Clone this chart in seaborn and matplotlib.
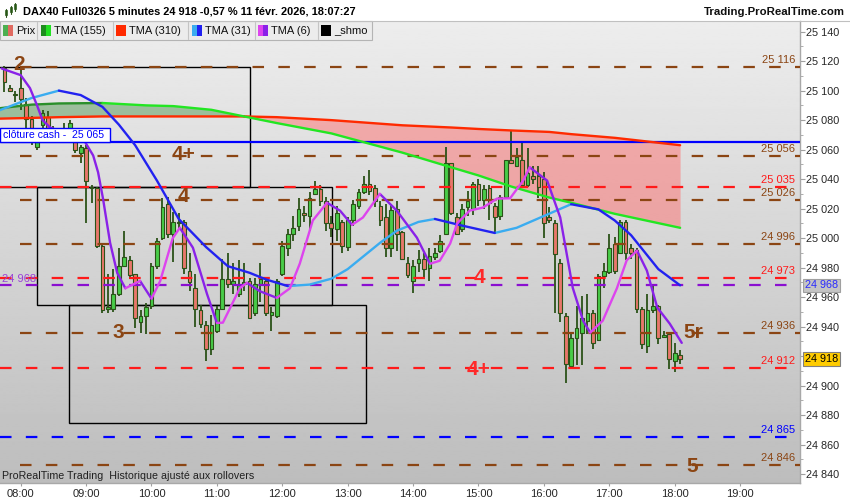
import numpy as np
import pandas as pd
import matplotlib
matplotlib.use("Agg")
import matplotlib.pyplot as plt
import matplotlib.transforms as mtransforms
from matplotlib.patches import Rectangle
from matplotlib.lines import Line2D
import seaborn as sns

sns.set_style("white")
plt.rcParams['font.family'] = ['Liberation Sans', 'DejaVu Sans']
plt.rcParams['lines.scale_dashes'] = False

# %%
# DAX40 5 min candles, first one at 07:45 (index 0), last at 18:05
opens = [25115, 25102, 25098, 25102, 25091, 25081, 25062, 25077, 25082, 25074,
         25070, 25072, 25075, 25065, 25058, 25061, 25034, 25034, 24995, 24952,
         24952, 24962, 24981, 24985, 24976, 24943, 24947, 24954, 24981, 25000,
         25023, 25003, 25010, 25011, 24978, 24966, 24951, 24941, 24925, 24937,
         24952, 24972, 24969, 24962, 24969, 24971, 24949, 24969, 24971, 24948,
         24947, 24976, 24993, 25003, 25008, 25017, 25015, 25030, 25033, 25025,
         25010, 25006, 25011, 24994, 25012, 25022, 25031, 25037, 25034, 25022,
         25014, 24993, 25020, 25004, 24983, 24971, 24983, 24986, 24980, 24987,
         24991, 25003, 25051, 25014, 25006, 25021, 25020, 25037, 25026, 25034,
         25022, 25015, 25028, 25053, 25049, 25053, 25036, 25042, 25042, 25040,
         25014, 25010, 24983, 24947, 24913, 24932, 24936, 24944, 24949, 24931,
         24974, 24977, 24996, 24990, 25011, 24993, 24992, 24952, 24927, 24951,
         24954, 24933, 24935, 24917, 24921]
highs = [25117, 25104, 25100, 25114, 25095, 25083, 25070, 25087, 25086, 25076,
         25075, 25078, 25080, 25068, 25063, 25063, 25036, 25035, 24997, 24976,
         24979, 24993, 25005, 24988, 24976, 24951, 24956, 24983, 25000, 25027,
         25028, 25018, 25017, 25012, 24990, 24976, 24955, 24944, 24948, 24954,
         24986, 24990, 24983, 24985, 24983, 24973, 24973, 24983, 24973, 24953,
         24972, 24998, 25006, 25015, 25027, 25022, 25031, 25039, 25036, 25028,
         25015, 25022, 25012, 25014, 25026, 25033, 25042, 25046, 25036, 25025,
         25023, 25023, 25025, 25005, 24987, 24985, 24992, 24990, 24993, 24993,
         25002, 25062, 25051, 25017, 25023, 25032, 25038, 25040, 25036, 25036,
         25024, 25029, 25053, 25073, 25061, 25065, 25061, 25049, 25049, 25045,
         25021, 25012, 24986, 24949, 24935, 24954, 24961, 24962, 24951, 24976,
         24983, 25003, 25001, 25012, 25012, 24996, 24993, 24953, 24962, 24968,
         24955, 24937, 24936, 24929, 24924]
lows = [25099, 25099, 25092, 25087, 25075, 25063, 25060, 25075, 25071, 25067,
        25066, 25068, 25066, 25058, 25051, 25010, 25024, 24993, 24949, 24949,
        24950, 24961, 24981, 24972, 24939, 24936, 24935, 24952, 24979, 24999,
        25000, 24984, 25006, 24976, 24964, 24940, 24939, 24917, 24921, 24936,
        24951, 24966, 24962, 24960, 24964, 24945, 24947, 24957, 24947, 24937,
        24946, 24974, 24988, 24998, 25005, 25011, 25005, 25029, 25022, 25005,
        25001, 24998, 24990, 24991, 25008, 25020, 25030, 25029, 25021, 25008,
        24987, 24987, 24991, 24985, 24973, 24963, 24977, 24972, 24971, 24985,
        24990, 25002, 25016, 25002, 25004, 25015, 25016, 25022, 25020, 25012,
        25003, 25012, 25027, 25050, 25048, 25034, 25035, 25037, 25027, 25000,
        25010, 24949, 24943, 24902, 24911, 24914, 24914, 24935, 24925, 24930,
        24966, 24976, 24976, 24989, 24985, 24986, 24949, 24925, 24922, 24949,
        24928, 24932, 24911, 24909, 24915]
closes = [25106, 25100, 25097, 25094, 25081, 25070, 25065, 25085, 25075, 25070,
          25072, 25074, 25078, 25060, 25062, 25039, 25035, 24995, 24951, 24953,
          24962, 24981, 24987, 24975, 24946, 24947, 24953, 24981, 24998, 25021,
          25003, 25011, 25011, 24980, 24970, 24952, 24942, 24925, 24941, 24952,
          24972, 24969, 24971, 24968, 24970, 24946, 24969, 24972, 24949, 24950,
          24971, 24995, 25003, 25007, 25020, 25016, 25027, 25033, 25025, 25010,
          25007, 25017, 24995, 25012, 25023, 25031, 25037, 25032, 25025, 25012,
          24993, 25019, 25003, 24986, 24975, 24981, 24986, 24979, 24988, 24990,
          24998, 25051, 25017, 25003, 25020, 25025, 25037, 25026, 25033, 25024,
          25014, 25028, 25053, 25051, 25055, 25036, 25044, 25040, 25035, 25010,
          25012, 24989, 24949, 24915, 24932, 24939, 24946, 24949, 24929, 24974,
          24978, 24993, 24978, 25011, 24990, 24990, 24952, 24928, 24951, 24954,
          24932, 24934, 24918, 24922, 24918]

# slow averages, read at the same candle indices
long_idx = [-1, 5, 10, 18, 26, 31, 38, 44, 50, 60, 73, 82, 87, 93, 100, 104, 112, 124]
tma155 = [25088, 25090.5, 25091.3, 25091.6, 25090, 25089.5, 25087, 25082.5, 25078,
          25071, 25058, 25048, 25042.5, 25035, 25027.5, 25024, 25016.5, 25007]
tma310 = [25081, 25081.5, 25082, 25082.5, 25082.5, 25082.5, 25082.5, 25082.5, 25082,
          25080, 25076.5, 25075, 25074, 25073, 25072, 25070.5, 25068, 25063]

tma31_idx = [-1, 5, 10, 14, 18, 21, 24, 28, 32, 37, 41, 45, 48, 52, 56, 60, 63, 66, 69,
             72, 76, 79, 84, 90, 94, 99, 104, 109, 112, 115, 120, 124]
tma31 = [25086.5, 25095, 25100, 25097, 25089, 25077, 25063, 25039, 25013, 24994,
         24981, 24976.5, 24972, 24967.5, 24968.5, 24972.5, 24979, 24988, 24997,
         25005, 25011, 25013, 25008.5, 25003.5, 25007, 25015, 25023, 25019.5, 25012,
         25002, 24979, 24968]

tma6_idx = [-0.5, 3, 4.7, 6, 7, 8.4, 12, 14.4, 16.3, 17.2, 18.1, 19.4, 20.7, 22.2,
            24.9, 27, 28.6, 30.9, 32.2, 34.6, 37.2, 39, 40.1, 43.2, 44.5, 46.9, 50,
            52.4, 54.2, 56.6, 59.2, 61.6, 63.8, 65.8, 68.9, 72, 75.7, 78.1, 79.9, 81.8,
            83.1, 85.4, 87.8, 90.4, 92.8, 95.2, 96.4, 99.6, 102, 104.3, 106.2, 107.5,
            109.8, 112.4, 114.2, 116.1, 117.9, 119.8, 122.1, 124.3]
tma6 = [25115, 25110.5, 25101.7, 25090, 25080, 25075, 25070, 25067.7, 25056, 25044.6,
        25026.8, 24996.9, 24976.5, 24966, 24971, 24959, 24971, 25000, 25007, 24993.5,
        24962, 24942.5, 24942.7, 24966, 24969.7, 24964, 24959.5, 24966, 24982.6, 25012,
        25024, 25018.6, 25009, 25014, 25030, 25018.7, 25000.3, 24982.6, 24984.7, 24996.3,
        25010, 25018.7, 25020.7, 25026.8, 25027, 25039, 25048, 25039, 25014, 24966.3,
        24944, 24936, 24944, 24966, 24985, 24991.5, 24978, 24953, 24942, 24929]

# levels drawn on the chart
level_price = [25116, 25056, 25026, 24996, 24936, 24846, 25035, 24973, 24912, 24968, 24865]
level_kind = ['brown'] * 6 + ['red'] * 3 + ['purple', 'blue']
cash_close = 25065

# zones (start idx, end idx, low, high)
zone_x0 = [-9, 6, 11.9]
zone_x1 = [45.1, 60.1, 66.4]
zone_lo = [25035, 24955, 24875]
zone_hi = [25116, 25035, 24955]

# wave labels
wave_txt = ['2', '4+', '4', '3', '5r', '5', '4', '4+']
wave_x = [2.7, 32.9, 32.8, 21.0, 126.5, 126.2, 87.1, 87.1]
wave_y = [25118, 25057, 25028, 24936, 24936, 24845, 24973, 24911]
wave_kind = ['brown'] * 6 + ['red'] * 2

hours = list(range(8, 20))

legend_names = ['Prix', 'TMA (155)', 'TMA (310)', 'TMA (31)', 'TMA (6)', '_shmo']

# %%
COL = {'brown': '#8b4513', 'red': '#ff1a1a', 'purple': '#8a10d0', 'blue': '#0000ff'}
BULL, BEAR, EDGE = '#48cc48', '#e8776b', '#2b5218'

fig = plt.figure(figsize=(8.5, 5), dpi=100)
ax = fig.add_axes([0, 17 / 500, 800 / 850, 462 / 500])
XL = (-0.8, 146.0)
YL = (24834, 25147.2)

grad = np.linspace(237, 189, 256).reshape(-1, 1)
ax.imshow(grad, cmap='gray', vmin=0, vmax=255, extent=[XL[0], XL[1], YL[0], YL[1]],
          aspect='auto', zorder=0, interpolation='bilinear')

g = np.array(tma155)
r = np.array(tma310)
ax.fill_between(long_idx, g, r, where=g >= r, interpolate=True, color='#3a8a3a', alpha=0.42, lw=0, zorder=1)
ax.fill_between(long_idx, g, r, where=g <= r, interpolate=True, color='#ff7070', alpha=0.5, lw=0, zorder=1)

for x0, x1, lo, hi in zip(zone_x0, zone_x1, zone_lo, zone_hi):
    ax.add_patch(Rectangle((x0, lo), x1 - x0, hi - lo, fill=False, ec='black', lw=1, zorder=2))

# candles
o, h, l, c = map(np.array, (opens, highs, lows, closes))
idx = np.arange(len(o))
up = c >= o
bot = np.minimum(o, c)
hgt = np.maximum(np.abs(c - o), 0.9)
ax.vlines(idx, l, h, color=EDGE, lw=1.3, zorder=3)
ax.bar(idx[up], hgt[up], bottom=bot[up], width=0.68, color=BULL, edgecolor=EDGE, linewidth=0.8, zorder=4)
ax.bar(idx[~up], hgt[~up], bottom=bot[~up], width=0.68, color=BEAR, edgecolor=EDGE, linewidth=0.8, zorder=4)

# horizontal levels
trans = mtransforms.blended_transform_factory(ax.transAxes, ax.transData)
for p, k in zip(level_price, level_kind):
    x0 = 2.87 if k == 'brown' else XL[0]
    ax.plot([x0, XL[1]], [p, p], color=COL[k], lw=1.6, dashes=(8.3, 10.3),
            dash_capstyle='butt', zorder=5)
    if k != 'purple':
        ax.text(0.994, p + 2.6, f"{p:,}".replace(',', ' '), transform=trans, ha='right',
                va='baseline', fontsize=8, color=COL[k], zorder=9)
ax.text(0.002, 24968 + 2.6, '24 968', transform=trans, ha='left', va='baseline',
        fontsize=8, color='#9a40d8', zorder=9)
ax.axhline(cash_close, color='#0000ff', lw=1.6, zorder=5)


def two_tone(xs, ys):
    rows, run, prev = [], 0, None
    for k in range(len(xs) - 1):
        d = 'up' if ys[k + 1] >= ys[k] else 'down'
        if d != prev:
            run += 1
            rows.append((run, d, xs[k], ys[k]))
        rows.append((run, d, xs[k + 1], ys[k + 1]))
        prev = d
    return pd.DataFrame(rows, columns=['run', 'dir', 'x', 'y'])


for xs, ys, pal in [(long_idx, tma310, {'up': '#ff2a00', 'down': '#ff2a00'}),
                    (long_idx, tma155, {'up': '#2a8f2a', 'down': '#22e622'}),
                    (tma31_idx, tma31, {'up': '#3aacf0', 'down': '#2222f0'}),
                    (tma6_idx, tma6, {'up': '#dd44ee', 'down': '#8a22e8'})]:
    sns.lineplot(data=two_tone(xs, ys), x='x', y='y', hue='dir', units='run',
                 estimator=None, sort=False, palette=pal, legend=False, lw=1.7,
                 zorder=6, ax=ax)

# cash close box
ax.add_patch(Rectangle((XL[0], cash_close), 20.2, 9.8, fc='white', ec='#0000ff', lw=1, zorder=7))
ax.text(-0.25, cash_close + 4.9, 'clôture cash -  25 065', ha='left', va='center',
        fontsize=7.6, color='#0000ff', zorder=8)

for t, x, y, k in zip(wave_txt, wave_x, wave_y, wave_kind):
    ax.text(x, y, t, ha='center', va='center', fontsize=15, fontweight='bold',
            color=COL[k] if k == 'brown' else '#ff2a2a', zorder=9)

ax.text(0.003, 0.016, 'ProRealTime Trading  Historique ajusté aux rollovers',
        transform=ax.transAxes, ha='left', va='center', fontsize=7.7, color='#202020', zorder=9)

# price tags on the axis
ax.text(1.006, 24968, '24 968', transform=trans, ha='left', va='center', fontsize=7.8,
        color='#2a2aff', zorder=10, clip_on=False,
        bbox=dict(boxstyle='square,pad=0.15', fc='#c4c4c4', ec='#a0a0a0', lw=0.8))
ax.text(1.006, 24918, '24 918', transform=trans, ha='left', va='center', fontsize=7.8,
        color='black', zorder=10, clip_on=False,
        bbox=dict(boxstyle='square,pad=0.15', fc='#ffcc00', ec='#808080', lw=0.8))

yt = np.arange(24840, 25141, 20)
ax.set_yticks(yt)
ax.set_yticklabels([f"{v:,}".replace(',', ' ') for v in yt])
for v, lab in zip(yt, ax.get_yticklabels()):
    if v % 100 == 0:
        lab.set_fontweight('bold')
ax.set_yticks(np.arange(24840, 25141, 10), minor=True)
ax.yaxis.tick_right()
ax.tick_params(axis='y', which='both', left=False, right=True, labelleft=False,
               labelright=True, direction='out', color='#a0a0a0', labelsize=7.8, pad=0.8)
ax.tick_params(axis='y', which='major', length=3.6)
ax.tick_params(axis='y', which='minor', length=2.2)

ax.set_xticks([3 + 12 * k for k in range(len(hours))])
ax.set_xticklabels([f"{hh:02d}:00" for hh in hours])
ax.tick_params(axis='x', bottom=True, direction='out', length=2.5, color='#a0a0a0',
               labelsize=8, pad=1.5)
ax.set_xlabel('')
ax.set_ylabel('')
# limits last, set_yticks may widen the view otherwise
ax.set_xlim(*XL)
ax.set_ylim(*YL)
for s in ['left', 'top']:
    ax.spines[s].set_visible(False)
for s in ['right', 'bottom']:
    ax.spines[s].set_color('#a8a8a8')
    ax.spines[s].set_linewidth(1)


# %%
# header and legend strip
def fx(x):
    return x / 850


def fy(y):
    return 1 - y / 500


fig.add_artist(Line2D([0, 1], [fy(20.5), fy(20.5)], color='#c0c0c0', lw=0.8))
for k, x in enumerate([5, 9.5, 14]):
    fig.add_artist(Line2D([fx(x + 1), fx(x + 1)], [fy(17 - 3 * k), fy(6 - 3 * k + 3)],
                          color='#2b5218', lw=0.8))
    fig.add_artist(Rectangle((fx(x), fy(15 - 3 * k)), fx(2.2), 5 / 500,
                             transform=fig.transFigure, fc='#48cc48', ec='#2b5218', lw=0.5))
fig.text(fx(23), fy(12), 'DAX40 Full0326 5 minutes 24 918 -0,57 % 11 févr. 2026, 18:07:27',
         ha='left', va='center', fontsize=7.9, fontweight='bold', color='black')
fig.text(fx(845), fy(12), 'Trading.ProRealTime.com', ha='right', va='center',
         fontsize=8.2, fontweight='bold', color='#101010')

fig.add_artist(Rectangle((0, fy(40)), fx(372), 19 / 500, transform=fig.transFigure,
                         fc='#ececec', ec='#b4b4b4', lw=0.8))
sw_left = [3, 41, 116, 192, 258, 321]
sw_cols = [('#4caf50', '#e06a60'), ('#1e8c1e', '#22e022'), ('#ff2a00', '#ff2a00'),
           ('#3aacf0', '#2020f0'), ('#dd44ee', '#8a20e8'), ('#000000', '#000000')]
for x in [37, 113, 188, 255, 318]:
    fig.add_artist(Line2D([fx(x), fx(x)], [fy(22), fy(39)], color='#c4c4c4', lw=0.8))
for name, x, (c1, c2) in zip(legend_names, sw_left, sw_cols):
    fig.add_artist(Rectangle((fx(x), fy(36)), fx(5), 11 / 500, transform=fig.transFigure,
                             fc=c1, ec='none'))
    fig.add_artist(Rectangle((fx(x + 5), fy(36)), fx(5), 11 / 500, transform=fig.transFigure,
                             fc=c2, ec='none'))
    fig.text(fx(x + 13), fy(30.5), name, ha='left', va='center', fontsize=8, color='#101010')

fig.savefig('out.png', dpi=100, facecolor='white')
